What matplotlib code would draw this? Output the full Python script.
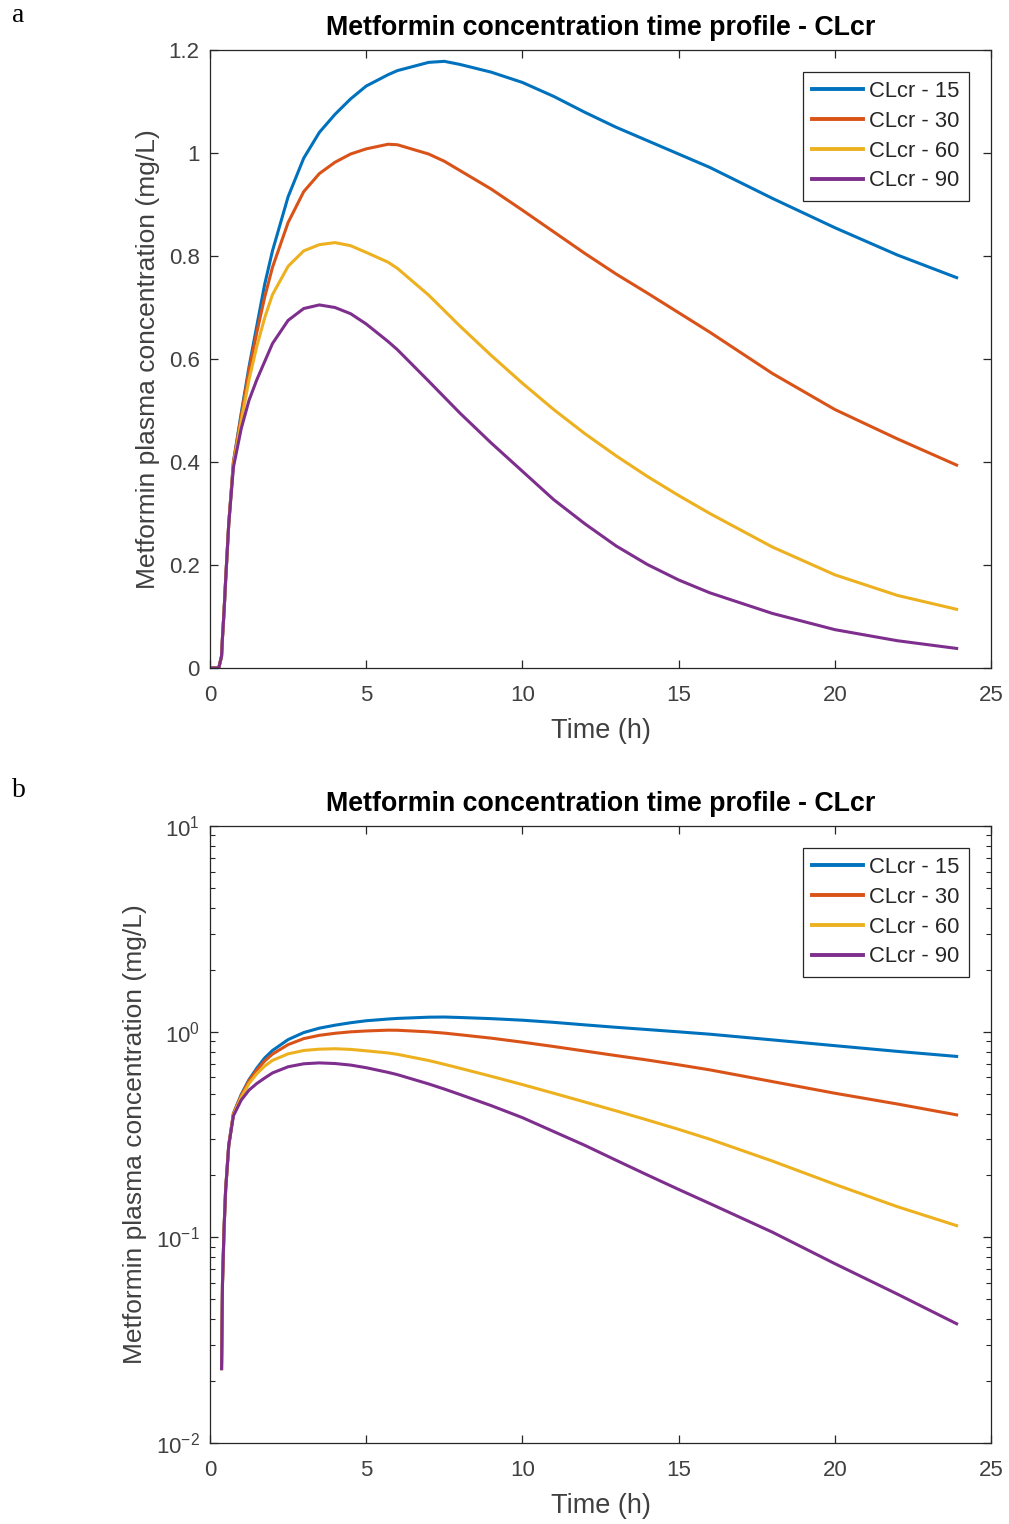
import matplotlib
matplotlib.use("Agg")
import matplotlib.pyplot as plt
import numpy as np

plt.rcParams['font.family'] = ['Liberation Sans', 'DejaVu Sans']

time_h = [0, 0.28, 0.37, 0.4, 0.45, 0.5, 0.6, 0.75, 1.0, 1.25, 1.5, 1.75, 2.0, 2.5,
          3.0, 3.5, 4.0, 4.5, 5.0, 5.7, 6.0, 7.0, 7.5, 8.0, 9.0, 10, 11, 12, 13, 14,
          15, 16, 18, 20, 22, 23.9]

clcr_15 = [0, 0, 0.023, 0.06, 0.11, 0.17, 0.28, 0.40, 0.495, 0.585, 0.665, 0.745, 0.81, 0.915,
           0.99, 1.04, 1.075, 1.105, 1.13, 1.152, 1.16, 1.176, 1.178, 1.172, 1.157, 1.137, 1.11, 1.079, 1.05, 1.024,
           0.998, 0.972, 0.912, 0.855, 0.802, 0.758]
clcr_30 = [0, 0, 0.023, 0.06, 0.11, 0.17, 0.28, 0.40, 0.49, 0.578, 0.652, 0.72, 0.778, 0.865,
           0.925, 0.96, 0.982, 0.998, 1.008, 1.017, 1.016, 0.998, 0.984, 0.966, 0.93, 0.889, 0.847, 0.805, 0.765, 0.728,
           0.69, 0.652, 0.572, 0.502, 0.445, 0.394]
clcr_60 = [0, 0, 0.023, 0.06, 0.11, 0.17, 0.28, 0.395, 0.48, 0.56, 0.625, 0.68, 0.725, 0.78,
           0.81, 0.822, 0.826, 0.82, 0.807, 0.788, 0.776, 0.724, 0.694, 0.664, 0.607, 0.553, 0.502, 0.455, 0.412, 0.372,
           0.335, 0.3, 0.235, 0.181, 0.141, 0.114]
clcr_90 = [0, 0, 0.023, 0.06, 0.11, 0.17, 0.28, 0.39, 0.465, 0.52, 0.56, 0.595, 0.63, 0.675,
           0.698, 0.705, 0.70, 0.688, 0.668, 0.634, 0.618, 0.557, 0.526, 0.495, 0.437, 0.382, 0.327, 0.28, 0.237, 0.201,
           0.171, 0.146, 0.106, 0.0745, 0.053, 0.038]

labels = ['CLcr - 15', 'CLcr - 30', 'CLcr - 60', 'CLcr - 90']
colors = ['#0072BD', '#D95319', '#EDB120', '#7E2F8E']
series = [clcr_15, clcr_30, clcr_60, clcr_90]

title = 'Metformin concentration time profile - CLcr'
xlabel = 'Time (h)'
ylabel = 'Metformin plasma concentration (mg/L)'
xticks = [0, 5, 10, 15, 20, 25]
yticks_lin = [0, 0.2, 0.4, 0.6, 0.8, 1.0, 1.2]
yticklabels_lin = ['0', '0.2', '0.4', '0.6', '0.8', '1', '1.2']

W, H = 1009, 1524
fig = plt.figure(figsize=(W / 100, H / 100), dpi=100)

axc = '#262626'
tickc = '#404040'

def px_axes(l, r, t, b):
    return [l / W, 1 - b / H, (r - l) / W, (b - t) / H]

ax1 = fig.add_axes(px_axes(210, 991, 50, 668))
ax2 = fig.add_axes(px_axes(210, 991, 826, 1443))

for ax in (ax1, ax2):
    for s, lab, c in zip(series, labels, colors):
        ax.plot(time_h, s, color=c, lw=2.2, label=lab)
    ax.set_xlim(0, 25)
    ax.set_xticks(xticks)
    ax.tick_params(direction='in', top=True, right=True, length=6, width=0.9,
                   colors=axc, labelcolor=tickc, labelsize=16)
    ax.tick_params(axis='x', pad=12)
    ax.tick_params(axis='y', pad=7.5)
    ax.tick_params(which='minor', direction='in', top=False, right=True, length=3.5, width=0.8, colors=axc)
    for sp in ax.spines.values():
        sp.set_color(axc)
        sp.set_linewidth(0.9)
    ax.set_title(title, fontsize=19.3, fontweight='bold', color='black', pad=11)
    ax.set_xlabel(xlabel, fontsize=19.5, color=tickc, labelpad=9)
    ax.set_ylabel(ylabel, fontsize=19, color=tickc, labelpad=6)
    leg = ax.legend(loc='upper right', fontsize=15.8, handlelength=2.3, handletextpad=0.3,
                    labelspacing=0.40, borderpad=0.42, borderaxespad=1.0, fancybox=False,
                    framealpha=1, edgecolor=axc)
    leg.get_frame().set_linewidth(0.9)
    for txt in leg.get_texts():
        txt.set_color(axc)
    for ln in leg.get_lines():
        ln.set_linewidth(2.8)

ax1.set_ylim(0, 1.2)
ax1.set_yticks(yticks_lin)
ax1.set_yticklabels(yticklabels_lin)

ax2.set_yscale('log', nonpositive='mask')
ax2.set_ylim(0.01, 10)
ax2.minorticks_on()
ax2.tick_params(axis='x', which='minor', bottom=False, top=False)

fig.text(12 / W, 1 - 15 / H, 'a', fontsize=20, family='Liberation Serif', va='center', ha='left')
fig.text(12 / W, 1 - 790 / H, 'b', fontsize=20, family='Liberation Serif', va='center', ha='left')

fig.savefig('out.png', dpi=100)
